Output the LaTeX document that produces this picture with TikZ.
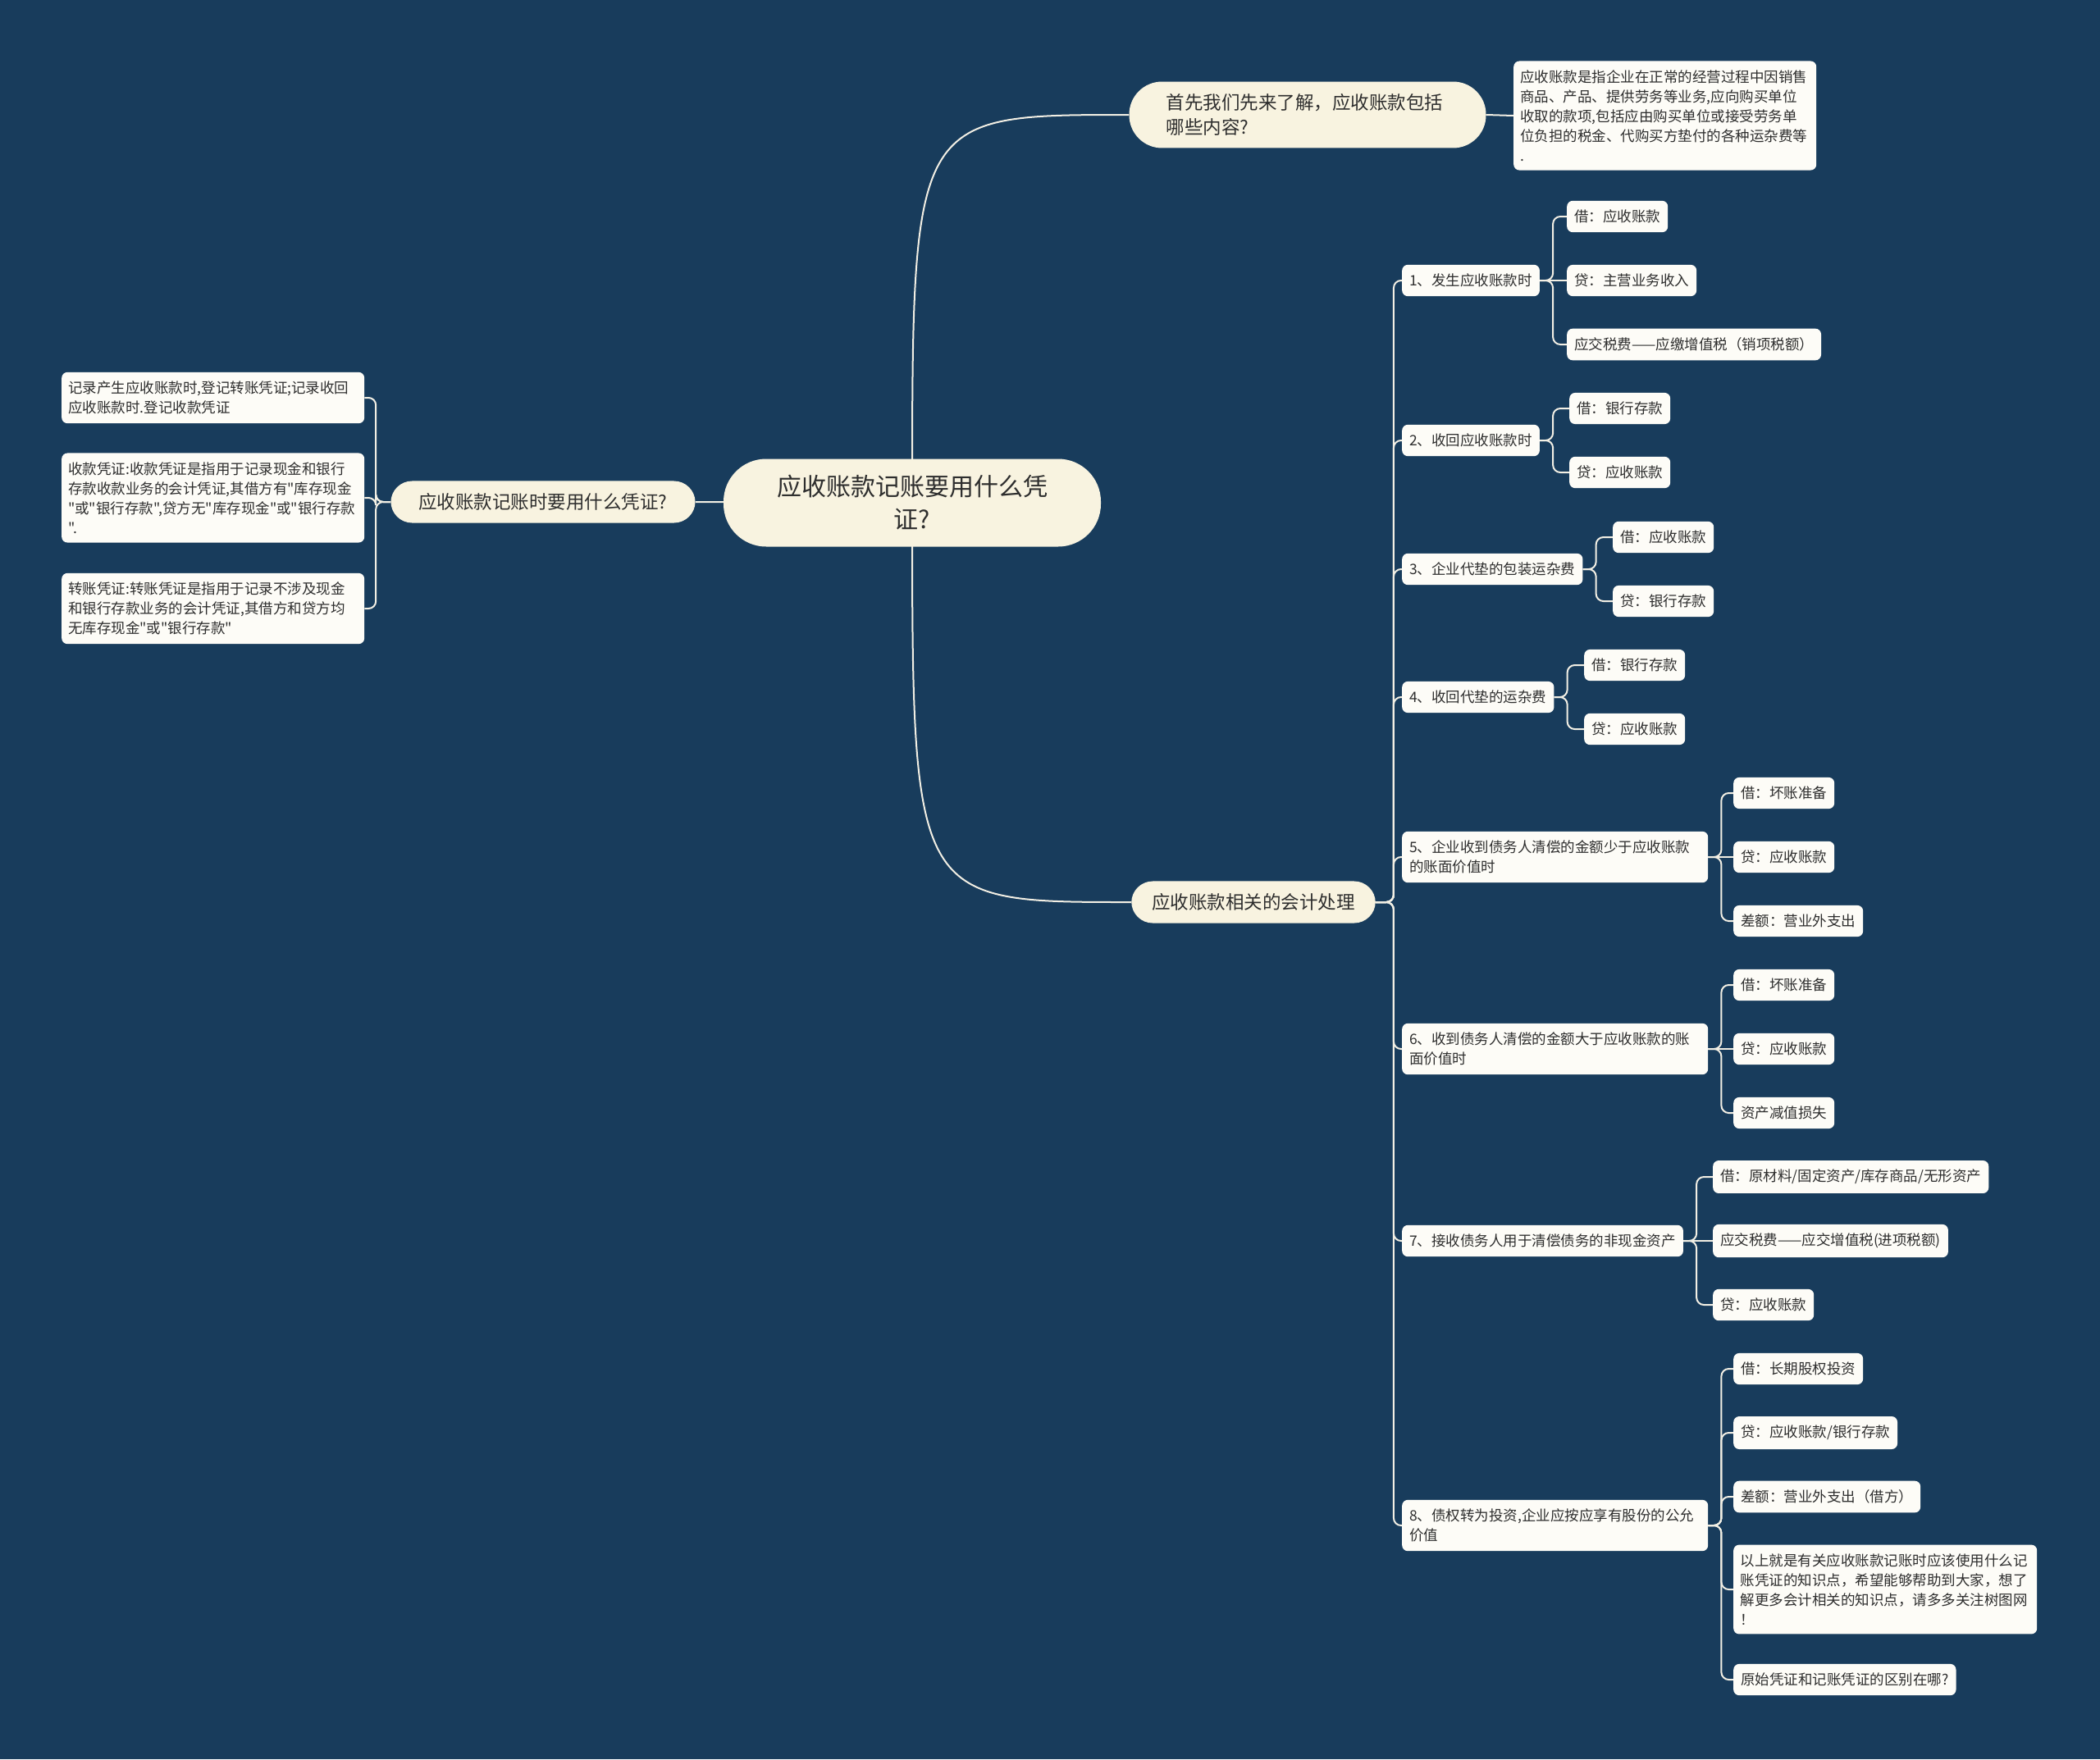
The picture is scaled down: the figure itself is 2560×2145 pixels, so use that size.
\documentclass[tikz,border=0pt]{standalone}
\usepackage{fontspec}
\newfontfamily\cjk{Noto Sans CJK SC}
\usetikzlibrary{backgrounds}
\pgfdeclarelayer{edgelayer}
\pgfdeclarelayer{nodelayer}
\pgfsetlayers{edgelayer,nodelayer,main}
\definecolor{navy}{HTML}{183C5C}
\definecolor{cream}{HTML}{F8F3E0}
\definecolor{paper}{HTML}{FDFCF7}
\definecolor{ink}{HTML}{2E2E2E}
\definecolor{wire}{HTML}{F2EFE4}
\tikzstyle{root}=[fill=cream, rounded corners=52pt, text=ink, font=\cjk\fontsize{30}{40}\selectfont, align=center, text width=340pt, inner xsep=60pt, inner ysep=20pt]
\tikzstyle{topic}=[fill=cream, rounded corners=26pt, text=ink, font=\cjk\fontsize{22.5}{30}\selectfont, inner xsep=25pt, inner ysep=15pt]
\tikzstyle{leaf}=[fill=paper, rounded corners=7pt, text=ink, font=\cjk\fontsize{17.5}{24}\selectfont, inner xsep=9pt, inner ysep=11pt, anchor=west]
\tikzstyle{wide}=[align=left, text width=353pt, inner xsep=8pt]
\tikzstyle{link}=[draw=wire, line width=2pt]
\tikzstyle{elbow}=[link, rounded corners=9pt]

\begin{document}
\begin{tikzpicture}[x=1pt, y=-1pt]
	\useasboundingbox (0,0) rectangle (2560,2145);
	\begin{pgfonlayer}{nodelayer}
		\node [style=root] (0) at (1112, 613) {应收账款记账要用什么凭\\证?};
		\node [style=topic, inner xsep=34pt] (1) at (662, 612) {应收账款记账时要用什么凭证?};
		\node [style=topic, rounded corners=40pt, align=left, text width=345pt, inner xsep=45pt] (2) at (1594, 140) {首先我们先来了解，应收账款包括\\哪些内容?};
		\node [style=leaf, wide] (3) at (1845, 141) {应收账款是指企业在正常的经营过程中因销售\\商品、产品、提供劳务等业务,应向购买单位\\收取的款项,包括应由购买单位或接受劳务单\\位负担的税金、代购买方垫付的各种运杂费等\\.};
		\node [style=topic] (4) at (1528, 1100) {应收账款相关的会计处理};
		% left side
		\node [style=leaf, wide] (5) at (75, 485) {记录产生应收账款时,登记转账凭证;记录收回\\应收账款时.登记收款凭证};
		\node [style=leaf, wide] (6) at (75, 607) {收款凭证:收款凭证是指用于记录现金和银行\\存款收款业务的会计凭证,其借方有"库存现金\\"或"银行存款",贷方无"库存现金"或"银行存款\\".};
		\node [style=leaf, wide] (7) at (75, 742) {转账凭证:转账凭证是指用于记录不涉及现金\\和银行存款业务的会计凭证,其借方和贷方均\\无库存现金"或"银行存款"};
		% right side, steps
		\node [style=leaf] (8) at (1709, 342) {1、发生应收账款时};
		\node [style=leaf] (9) at (1709, 537) {2、收回应收账款时};
		\node [style=leaf] (10) at (1709, 694) {3、企业代垫的包装运杂费};
		\node [style=leaf] (11) at (1709, 850) {4、收回代垫的运杂费};
		\node [style=leaf, wide, text width=355pt, inner xsep=9pt] (12) at (1709, 1045) {5、企业收到债务人清偿的金额少于应收账款\\的账面价值时};
		\node [style=leaf, wide, text width=355pt, inner xsep=9pt] (13) at (1709, 1279) {6、收到债务人清偿的金额大于应收账款的账\\面价值时};
		\node [style=leaf] (14) at (1709, 1513) {7、接收债务人用于清偿债务的非现金资产};
		\node [style=leaf, wide, text width=355pt, inner xsep=9pt] (15) at (1709, 1860) {8、债权转为投资,企业应按应享有股份的公允\\价值};
		% entries
		\node [style=leaf] (16) at (1910, 264) {借：应收账款};
		\node [style=leaf] (17) at (1910, 342) {贷：主营业务收入};
		\node [style=leaf] (18) at (1910, 420) {应交税费——应缴增值税（销项税额）};
		\node [style=leaf] (19) at (1913, 498) {借：银行存款};
		\node [style=leaf] (20) at (1913, 576) {贷：应收账款};
		\node [style=leaf] (21) at (1966, 655) {借：应收账款};
		\node [style=leaf] (22) at (1966, 733) {贷：银行存款};
		\node [style=leaf] (23) at (1931, 811) {借：银行存款};
		\node [style=leaf] (24) at (1931, 889) {贷：应收账款};
		\node [style=leaf] (25) at (2113, 967) {借：坏账准备};
		\node [style=leaf] (26) at (2113, 1045) {贷：应收账款};
		\node [style=leaf] (27) at (2113, 1123) {差额：营业外支出};
		\node [style=leaf] (28) at (2113, 1201) {借：坏账准备};
		\node [style=leaf] (29) at (2113, 1279) {贷：应收账款};
		\node [style=leaf] (30) at (2113, 1357) {资产减值损失};
		\node [style=leaf] (31) at (2088, 1435) {借：原材料/固定资产/库存商品/无形资产};
		\node [style=leaf] (32) at (2088, 1513) {应交税费——应交增值税(进项税额)};
		\node [style=leaf] (33) at (2088, 1591) {贷：应收账款};
		\node [style=leaf] (34) at (2113, 1669) {借：长期股权投资};
		\node [style=leaf] (35) at (2113, 1747) {贷：应收账款/银行存款};
		\node [style=leaf] (36) at (2113, 1825) {差额：营业外支出（借方）};
		\node [style=leaf, wide, inner xsep=8.5pt] (37) at (2113, 1938) {以上就是有关应收账款记账时应该使用什么记\\账凭证的知识点，希望能够帮助到大家，想了\\解更多会计相关的知识点，请多多关注树图网\\！};
		\node [style=leaf] (38) at (2113, 2048) {原始凭证和记账凭证的区别在哪?};
	\end{pgfonlayer}
	\begin{pgfonlayer}{edgelayer}
		\fill [navy] (0,0) rectangle (2560,2145);
		\draw [style=link] (0.center) .. controls (0.center |- 2.west) .. (2.west);
		\draw [style=link] (0.center) .. controls (0.center |- 4.west) .. (4.west);
		\draw [style=link] (0.center) to (1.east);
		\draw [style=link] (2.east) to (3.west);
		\foreach \k in {5,6,7}
			\draw [style=elbow] (1.west) -- ++(-18,0) |- (\k.east);
		\foreach \k in {8,...,15}
			\draw [style=elbow] (4.east) -- ++(22,0) |- (\k.west);
		\foreach \p/\c in {8/16, 8/18, 9/19, 9/20, 10/21, 10/22, 11/23, 11/24, 12/25, 12/27, 13/28, 13/30, 14/31, 14/33, 15/34, 15/35, 15/36, 15/37, 15/38}
			\draw [style=elbow] (\p.east) -- ++(16,0) |- (\c.west);
		\foreach \p/\c in {8/17, 12/26, 13/29, 14/32}
			\draw [style=link] (\p.east) to (\c.west);
	\end{pgfonlayer}
\end{tikzpicture}
\end{document}
